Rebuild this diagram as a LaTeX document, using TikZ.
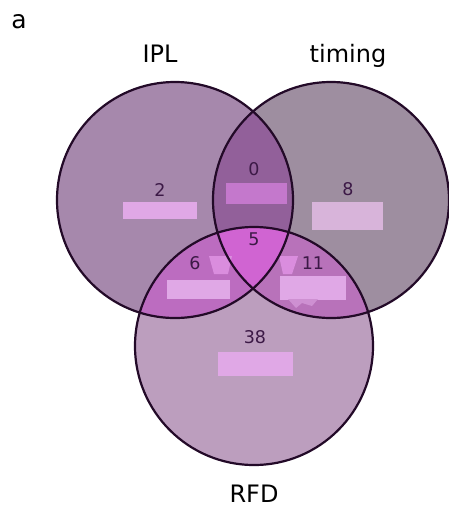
\documentclass[tikz,border=0pt]{standalone}
\usepackage{fontspec}
\setmainfont{DejaVu Sans}
\definecolor{cA}{RGB}{166,136,172}
\definecolor{cB}{RGB}{158,142,160}
\definecolor{cC}{RGB}{188,158,190}
\definecolor{cAB}{RGB}{146,96,154}
\definecolor{cAC}{RGB}{188,108,192}
\definecolor{cBC}{RGB}{184,114,186}
\definecolor{cABC}{RGB}{208,100,210}
\definecolor{edge}{RGB}{35,10,40}
\definecolor{numc}{RGB}{60,25,70}
\definecolor{boxc}{RGB}{224,168,230}
\definecolor{boxl}{RGB}{216,180,218}
\definecolor{boxm}{RGB}{196,120,204}
\tikzset{
  setlabel/.style={font=\fontsize{24}{28}\selectfont, text=black, anchor=base, inner sep=0pt},
  num/.style={font=\fontsize{17.5}{20}\selectfont, text=numc, anchor=base, inner sep=0pt},
  hbox/.style={fill=boxc, draw=none},
  ring/.style={draw=edge, line width=2.2pt}
}
\begin{document}
\begin{tikzpicture}[x=1pt,y=-1pt]
\useasboundingbox (0,0) rectangle (448,509);
\coordinate (A) at (175,200);
\coordinate (B) at (331,200);
\coordinate (C) at (254,346);
\def\rA{118}\def\rB{118}\def\rC{119}
% base fills
\fill[cA] (A) circle (\rA);
\fill[cB] (B) circle (\rB);
\fill[cC] (C) circle (\rC);
% overlaps
\begin{scope}
  \clip (A) circle (\rA);
  \fill[cAB] (B) circle (\rB);
  \fill[cAC] (C) circle (\rC);
\end{scope}
\begin{scope}
  \clip (B) circle (\rB);
  \fill[cBC] (C) circle (\rC);
\end{scope}
\begin{scope}
  \clip (A) circle (\rA);
  \clip (B) circle (\rB);
  \fill[cABC] (C) circle (\rC);
\end{scope}
% highlight boxes
\fill[hbox] (123,202) rectangle (197,219);
\fill[boxm] (226,183) rectangle (287,204);
\fill[boxl] (312,202) rectangle (383,230);
\fill[hbox] (167,280) rectangle (230,299);
\fill[hbox] (280,276) rectangle (346,300);
\fill[hbox] (218,352) rectangle (293,376);
% light patches near the central region
\begin{scope}
  \clip (C) circle (\rC);
  \fill[boxc!60!cABC] (209,256) -- (232,256) -- (228,274) -- (214,274) -- cycle;
  \fill[boxc!60!cABC] (279,256) -- (298,256) -- (292,274) -- (283,274) -- cycle;
  \fill[boxc!55!cBC] (288,299) -- (318,299) -- (312,306) -- (302,303) -- (296,308) -- cycle;
\end{scope}
% outlines
\draw[ring] (A) circle (\rA);
\draw[ring] (B) circle (\rB);
\draw[ring] (C) circle (\rC);
% labels
\node[font=\fontsize{25}{28}\selectfont, anchor=base, inner sep=0pt] (pa) at (19,28) {a};
\node[setlabel] (lA) at (160,62) {IPL};
\node[setlabel] (lB) at (348,62) {timing};
\node[setlabel] (lC) at (254,502) {RFD};
\node[num] (n2) at (160,196) {2};
\node[num] (n0) at (254,175) {0};
\node[num] (n8) at (348,195) {8};
\node[num] (n5) at (254,245) {5};
\node[num] (n6) at (195,269) {6};
\node[num] (n11) at (313,269) {11};
\node[num] (n38) at (255,343) {38};
\end{tikzpicture}
\end{document}
